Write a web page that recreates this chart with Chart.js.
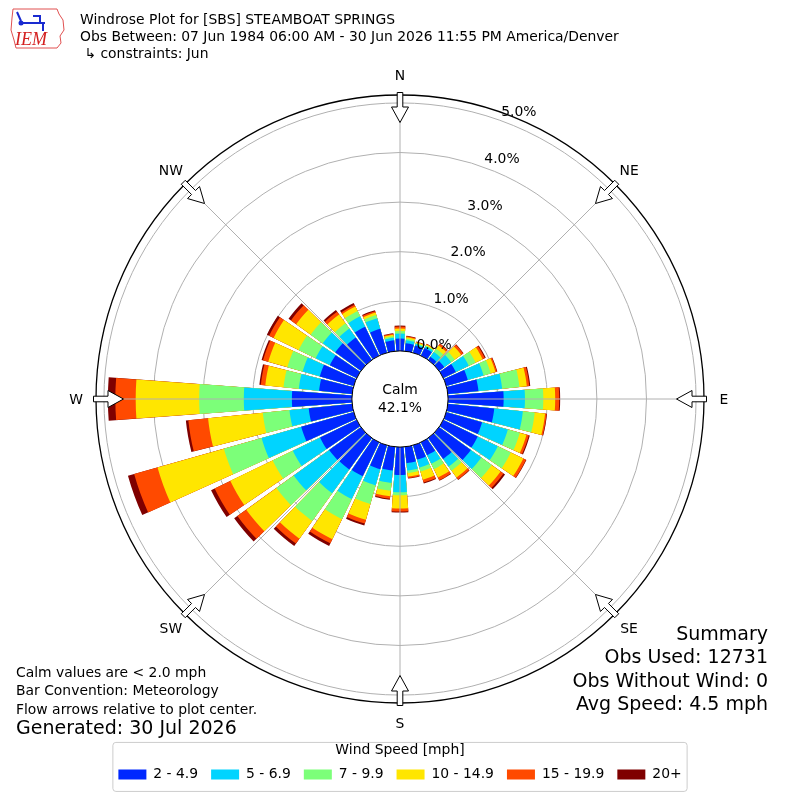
<!DOCTYPE html>
<html>
<head>
<meta charset="utf-8">
<title>Windrose Plot for [SBS] STEAMBOAT SPRINGS</title>
<script src="https://cdn.jsdelivr.net/npm/chart.js@4.4.1/dist/chart.umd.min.js"></script>
<style>
  html, body { margin: 0; padding: 0; background: #fff; }
</style>
</head>
<body>
<canvas id="rose" width="800" height="800"></canvas>
<script>
// Wind direction sectors, degrees clockwise from north
var directions = [0, 10, 20, 30, 40, 50, 60, 70, 80, 90, 100, 110, 120, 130, 140, 150, 160, 170,
  180, 190, 200, 210, 220, 230, 240, 250, 260, 270, 280, 290, 300, 310, 320, 330, 340, 350];

var speedBins = ['2 - 4.9', '5 - 6.9', '7 - 9.9', '10 - 14.9', '15 - 19.9', '20+'];
var binColours = ['#0028ff', '#00d4ff', '#7cff79', '#ffe600', '#ff4a00', '#7f0000'];

// Frequency [%] of each speed bin, per direction sector
var freq2to5 = [0.25, 0.16, 0.15, 0.17, 0.08, 0.13, 0.28, 0.45, 0.62, 1.12, 0.94, 0.75, 0.77, 0.79, 0.52, 0.29, 0.30, 0.33,
  0.56, 0.48, 0.50, 0.76, 0.78, 0.79, 0.82, 1.10, 0.88, 1.21, 0.67, 0.71, 0.60, 0.64, 0.56, 0.65, 0.50, 0.22];
var freq5to7 = [0.10, 0.06, 0.03, 0.04, 0.12, 0.17, 0.29, 0.33, 0.48, 0.43, 0.58, 0.54, 0.45, 0.26, 0.19, 0.19, 0.17, 0.15,
  0.35, 0.25, 0.34, 0.51, 0.59, 0.88, 0.61, 0.83, 0.39, 0.97, 0.41, 0.36, 0.32, 0.31, 0.22, 0.23, 0.22, 0.05];
var freq7to10 = [0.05, 0.03, 0.02, 0.02, 0.08, 0.09, 0.15, 0.15, 0.35, 0.37, 0.24, 0.25, 0.29, 0.26, 0.10, 0.12, 0.08, 0.05,
  0.06, 0.16, 0.39, 0.45, 0.69, 0.43, 0.45, 0.79, 0.54, 0.90, 0.31, 0.32, 0.38, 0.30, 0.13, 0.12, 0.07, 0.03];
var freq10to15 = [0.05, 0.03, 0.02, 0.02, 0.08, 0.16, 0.16, 0.10, 0.15, 0.24, 0.21, 0.14, 0.28, 0.22, 0.17, 0.19, 0.17, 0.07,
  0.27, 0.11, 0.33, 0.45, 0.44, 0.75, 0.95, 1.39, 1.11, 1.28, 0.37, 0.40, 0.56, 0.36, 0.22, 0.10, 0.05, 0.03];
var freq15to20 = [0.04, 0.02, 0.01, 0.01, 0.04, 0.05, 0.05, 0.03, 0.05, 0.08, 0.03, 0.05, 0.06, 0.07, 0.05, 0.06, 0.06, 0.03,
  0.06, 0.05, 0.08, 0.09, 0.12, 0.22, 0.35, 0.49, 0.40, 0.41, 0.09, 0.11, 0.10, 0.13, 0.07, 0.04, 0.03, 0.02];
var freq20up = [0.02, 0.01, 0.005, 0.005, 0.01, 0.01, 0.02, 0.01, 0.02, 0.02, 0.01, 0.02, 0.01, 0.04, 0.01, 0.01, 0.02, 0.01,
  0.02, 0.02, 0.04, 0.06, 0.06, 0.08, 0.08, 0.13, 0.05, 0.15, 0.03, 0.03, 0.05, 0.06, 0.04, 0.04, 0.02, 0.01];

var ringTicks = [0, 1, 2, 3, 4, 5];
var compassLabels = ['N', 'NE', 'E', 'SE', 'S', 'SW', 'W', 'NW'];
var calmPercent = 42.1;

var titleLines = [
  'Windrose Plot for [SBS] STEAMBOAT SPRINGS',
  'Obs Between: 07 Jun 1984 06:00 AM - 30 Jun 2026 11:55 PM America/Denver',
  ' \u21b3 constraints: Jun'
];
var noteLines = ['Calm values are < 2.0 mph', 'Bar Convention: Meteorology', 'Flow arrows relative to plot center.'];
var generatedText = 'Generated: 30 Jul 2026';
var summaryLines = ['Summary', 'Obs Used: 12731', 'Obs Without Wind: 0', 'Avg Speed: 4.5 mph'];

// radial axis limits (percent); the calm circle sits below 0
var rMin = -0.97;
var rMax = 5.16;

var FONT = "'DejaVu Sans', sans-serif";
var barAngle = 8.5;
var gapAngle = 1.5;

// polarArea has no stacking, so draw cumulative sums with the
// smallest on top (dataset 0 is painted last)
var bins = [freq2to5, freq5to7, freq7to10, freq10to15, freq15to20, freq20up];
var labels = [];
var sectorAngles = [];
directions.forEach(function (d) {
  labels.push(d + '\u00b0', '');
  sectorAngles.push(barAngle, gapAngle);
});

var running = directions.map(function () { return 0; });
var datasets = bins.map(function (bin, k) {
  running = running.map(function (v, i) { return v + bin[i]; });
  var data = [];
  running.forEach(function (v) { data.push(v, null); });
  return {
    label: speedBins[k],
    data: data,
    backgroundColor: binColours[k],
    borderWidth: 0,
    angle: sectorAngles
  };
});

function polar(cx, cy, r, deg) {
  var a = deg * Math.PI / 180;
  return [cx + r * Math.sin(a), cy - r * Math.cos(a)];
}

// Spokes, calm circle, compass arrows, ring labels and the page texts
var roseDecor = {
  id: 'roseDecor',
  afterDraw: function (chart) {
    var ctx = chart.ctx;
    var scale = chart.scales.r;
    var cx = scale.xCenter, cy = scale.yCenter;
    var r0 = scale.getDistanceFromCenterForValue(0);
    var rOut = scale.getDistanceFromCenterForValue(rMax);
    var i, p, q;
    ctx.save();

    ctx.strokeStyle = '#b0b0b0';
    ctx.lineWidth = 1;
    for (i = 0; i < 8; i++) {
      p = polar(cx, cy, r0, i * 45);
      q = polar(cx, cy, rOut, i * 45);
      ctx.beginPath();
      ctx.moveTo(p[0], p[1]);
      ctx.lineTo(q[0], q[1]);
      ctx.stroke();
    }

    // calm circle
    ctx.beginPath();
    ctx.arc(cx, cy, r0, 0, Math.PI * 2);
    ctx.fillStyle = '#fff';
    ctx.fill();
    ctx.strokeStyle = '#000';
    ctx.lineWidth = 1;
    ctx.stroke();
    ctx.fillStyle = '#000';
    ctx.font = '13.9px ' + FONT;
    ctx.textAlign = 'center';
    ctx.textBaseline = 'middle';
    ctx.fillText('Calm', cx, cy - 9);
    ctx.fillText(calmPercent.toFixed(1) + '%', cx, cy + 9);

    // flow arrows pointing at the centre
    var shape = [[2.5, -2.8], [-12, -2.8], [-12, -8.5], [-27.5, 0], [-12, 8.5], [-12, 2.8], [2.5, 2.8]];
    for (i = 0; i < 8; i++) {
      var a = i * 45 * Math.PI / 180;
      var ux = Math.sin(a), uy = -Math.cos(a);
      ctx.beginPath();
      shape.forEach(function (s, j) {
        var r = rOut + s[0];
        var x = cx + r * ux - s[1] * uy;
        var y = cy + r * uy + s[1] * ux;
        if (j === 0) ctx.moveTo(x, y); else ctx.lineTo(x, y);
      });
      ctx.closePath();
      ctx.fillStyle = '#fff';
      ctx.fill();
      ctx.strokeStyle = '#000';
      ctx.lineWidth = 1;
      ctx.stroke();
    }

    // compass labels
    ctx.fillStyle = '#000';
    ctx.font = '13.9px ' + FONT;
    ctx.textAlign = 'center';
    ctx.textBaseline = 'middle';
    compassLabels.forEach(function (lab, k) {
      var pt = polar(cx, cy, rOut + 20, k * 45);
      ctx.fillText(lab, pt[0], pt[1] + 1);
    });

    // ring labels
    ctx.textAlign = 'left';
    ringTicks.forEach(function (v) {
      var pt = polar(cx, cy, scale.getDistanceFromCenterForValue(v), 20);
      ctx.fillText(v.toFixed(1) + '%', pt[0], pt[1] - 8);
    });

    // legend frame
    var lg = chart.legend;
    var hb = lg.legendHitBoxes;
    if (hb && hb.length) {
      var last = hb[hb.length - 1];
      var left = hb[0].left - 6, right = last.left + last.width + 5;
      var top = lg.top + 38, bottom = lg.top + 87;
      ctx.beginPath();
      ctx.roundRect(left + 0.5, top + 0.5, right - left, bottom - top, 3);
      ctx.strokeStyle = '#cccccc';
      ctx.lineWidth = 1;
      ctx.stroke();
    }

    // title block
    ctx.fillStyle = '#000';
    ctx.textAlign = 'left';
    ctx.font = '13.9px ' + FONT;
    titleLines.forEach(function (t, k) {
      ctx.fillText(t, 80, 20.5 + k * 17);
    });

    // notes, bottom left
    noteLines.forEach(function (t, k) {
      ctx.fillText(t, 16, 673 + k * 18.5);
    });
    ctx.font = '19px ' + FONT;
    ctx.fillText(generatedText, 16, 729);

    // summary, bottom right
    ctx.textAlign = 'right';
    summaryLines.forEach(function (t, k) {
      ctx.fillText(t, 768, 635 + k * 23.5);
    });

    // IEM logo
    ctx.strokeStyle = '#e05050';
    ctx.lineWidth = 1;
    ctx.beginPath();
    ctx.moveTo(13, 9); ctx.lineTo(57, 9); ctx.lineTo(59, 14); ctx.lineTo(63, 20);
    ctx.lineTo(64, 30); ctx.lineTo(60, 36); ctx.lineTo(61, 43); ctx.lineTo(57, 48);
    ctx.lineTo(16, 48); ctx.lineTo(14, 40); ctx.lineTo(11, 30); ctx.lineTo(12, 18);
    ctx.closePath();
    ctx.stroke();
    ctx.strokeStyle = '#1a2bd0';
    ctx.fillStyle = '#1a2bd0';
    ctx.lineWidth = 2;
    ctx.beginPath();
    ctx.moveTo(20, 23); ctx.lineTo(45, 23);
    ctx.moveTo(17, 12); ctx.lineTo(21, 21);
    ctx.moveTo(33, 16); ctx.lineTo(40, 16); ctx.lineTo(40, 22);
    ctx.moveTo(43, 23); ctx.lineTo(43, 31);
    ctx.stroke();
    ctx.beginPath();
    ctx.arc(21, 23, 2.5, 0, Math.PI * 2);
    ctx.fill();
    ctx.fillStyle = '#d42020';
    ctx.font = 'italic 18px "Liberation Serif", serif';
    ctx.textAlign = 'left';
    ctx.textBaseline = 'alphabetic';
    ctx.fillText('IEM', 15, 45);

    ctx.restore();
  }
};

new Chart(document.getElementById('rose'), {
  type: 'polarArea',
  data: { labels: labels, datasets: datasets },
  plugins: [roseDecor],
  options: {
    responsive: false,
    animation: false,
    events: [],
    layout: { padding: { top: 95, left: 96, right: 96, bottom: 8.5 } },
    scales: {
      r: {
        min: rMin,
        max: rMax,
        startAngle: -barAngle / 2,
        z: 1,
        ticks: { display: false },
        afterBuildTicks: function (axis) {
          axis.ticks = ringTicks.concat([rMax]).map(function (v) { return { value: v }; });
        },
        grid: {
          circular: true,
          color: function (c) { return c.tick && c.tick.value === rMax ? '#000' : '#b0b0b0'; },
          lineWidth: function (c) { return c.tick && c.tick.value === rMax ? 1.3 : 1; }
        },
        angleLines: { display: false },
        pointLabels: { display: false }
      }
    },
    plugins: {
      tooltip: { enabled: false },
      legend: {
        position: 'bottom',
        labels: {
          boxWidth: 28,
          boxHeight: 10,
          padding: 13,
          color: '#000',
          font: { family: FONT, size: 13.9 },
          generateLabels: function () {
            return speedBins.map(function (name, i) {
              return { text: name, fillStyle: binColours[i], strokeStyle: binColours[i], lineWidth: 0, hidden: false, datasetIndex: i };
            });
          }
        },
        title: {
          display: true,
          text: 'Wind Speed [mph]',
          color: '#000',
          font: { family: FONT, size: 13.9, lineHeight: 1.2 },
          padding: { top: 39.8, bottom: -5.8 }
        }
      }
    }
  }
});
</script>
</body>
</html>
